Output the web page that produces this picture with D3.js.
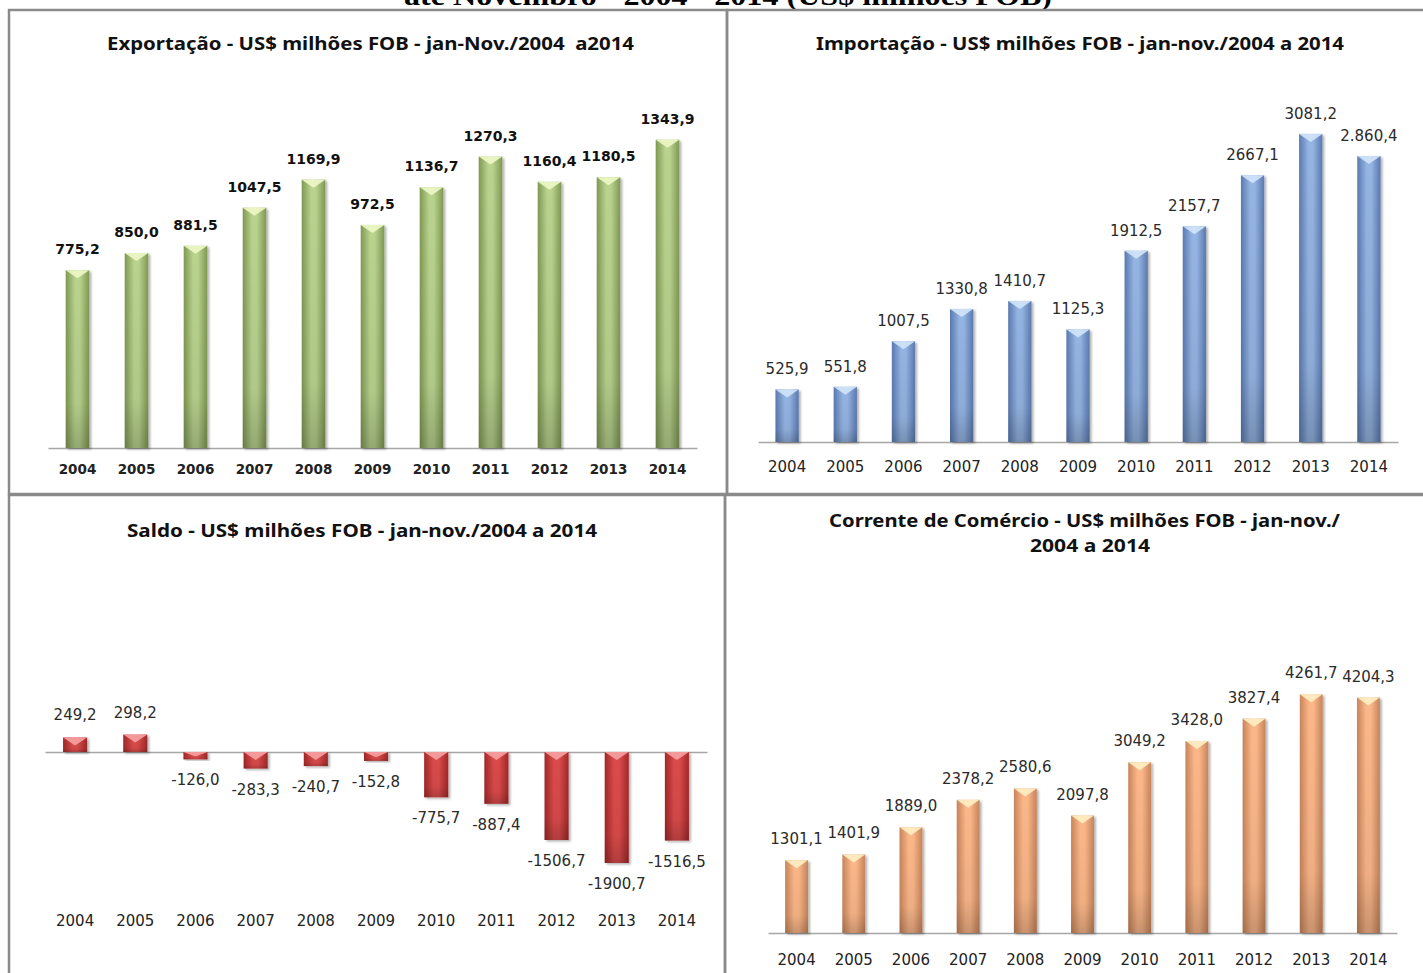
<!DOCTYPE html>
<html>
<head>
<meta charset="utf-8">
<script src="https://cdn.jsdelivr.net/npm/d3@7"></script>
<style>
  body { margin: 0; background: #fff; }
  svg { display: block; }
  text { white-space: pre; }
</style>
</head>
<body>
<svg width="1423" height="973"></svg>
<script>
// data
let years = ['2004', '2005', '2006', '2007', '2008', '2009', '2010', '2011', '2012', '2013', '2014']

let exportValues = [775.2, 850.0, 881.5, 1047.5, 1169.9, 972.5, 1136.7, 1270.3, 1160.4, 1180.5, 1343.9]
let exportLabels = ['775,2', '850,0', '881,5', '1047,5', '1169,9', '972,5', '1136,7', '1270,3', '1160,4', '1180,5', '1343,9']

let importValues = [525.9, 551.8, 1007.5, 1330.8, 1410.7, 1125.3, 1912.5, 2157.7, 2667.1, 3081.2, 2860.4]
let importLabels = ['525,9', '551,8', '1007,5', '1330,8', '1410,7', '1125,3', '1912,5', '2157,7', '2667,1', '3081,2', '2.860,4']

let saldoValues = [249.2, 298.2, -126.0, -283.3, -240.7, -152.8, -775.7, -887.4, -1506.7, -1900.7, -1516.5]
let saldoLabels = ['249,2', '298,2', '-126,0', '-283,3', '-240,7', '-152,8', '-775,7', '-887,4', '-1506,7', '-1900,7', '-1516,5']

let correnteValues = [1301.1, 1401.9, 1889.0, 2378.2, 2580.6, 2097.8, 3049.2, 3428.0, 3827.4, 4261.7, 4204.3]
let correnteLabels = ['1301,1', '1401,9', '1889,0', '2378,2', '2580,6', '2097,8', '3049,2', '3428,0', '3827,4', '4261,7', '4204,3']

let svg = d3.select('svg')
let defs = svg.append('defs')

// bar colours: edge, centre, chevron
let palettes = {
    green: ['#7f9852', '#b9d38f', '#eef8c6'],
    blue: ['#5a79b0', '#94b4e2', '#d2e4fa'],
    red: ['#a32828', '#dc4c4c', '#f6a2a2'],
    orange: ['#c8845a', '#fbb789', '#fff0c4']
}

Object.keys(palettes).forEach((name) => {
    let p = palettes[name]
    let grad = defs.append('linearGradient').attr('id', 'g-' + name)
        .attr('x1', '0').attr('x2', '1').attr('y1', '0').attr('y2', '0')
    grad.append('stop').attr('offset', '0%').attr('stop-color', p[0])
    grad.append('stop').attr('offset', '40%').attr('stop-color', p[1])
    grad.append('stop').attr('offset', '60%').attr('stop-color', p[1])
    grad.append('stop').attr('offset', '100%').attr('stop-color', p[0])
})

let shade = defs.append('linearGradient').attr('id', 'shade')
    .attr('x1', '0').attr('x2', '0').attr('y1', '0').attr('y2', '1')
shade.append('stop').attr('offset', '0%').attr('stop-color', '#000').attr('stop-opacity', 0)
shade.append('stop').attr('offset', '75%').attr('stop-color', '#000').attr('stop-opacity', 0.05)
shade.append('stop').attr('offset', '100%').attr('stop-color', '#000').attr('stop-opacity', 0.2)

let shadow = defs.append('filter').attr('id', 'shadow')
    .attr('x', '-30%').attr('y', '-10%').attr('width', '160%').attr('height', '130%')
shadow.append('feDropShadow').attr('dx', 2).attr('dy', 1.5)
    .attr('stdDeviation', 1.2).attr('flood-color', '#000').attr('flood-opacity', 0.3)

// page title, cut at the top like the source
svg.append('text')
    .attr('x', 728).attr('y', 5)
    .attr('text-anchor', 'middle')
    .attr('font-family', 'Liberation Serif')
    .attr('font-weight', 'bold')
    .attr('font-size', 27)
    .attr('textLength', 648)
    .attr('lengthAdjust', 'spacingAndGlyphs')
    .text('até Novembro - 2004 - 2014 (US$ milhões FOB)')

// panel frames
let frameColor = '#8a8a8a'
let frames = [
    [9, 10, 718, 484],
    [727, 10, 710, 484],
    [9, 495, 716, 500],
    [725, 495, 710, 500]
]
svg.selectAll('rect.frame')
    .data(frames)
    .enter()
    .append('rect')
    .attr('class', 'frame')
    .attr('x', (d) => d[0])
    .attr('y', (d) => d[1])
    .attr('width', (d) => d[2])
    .attr('height', (d) => d[3])
    .attr('fill', 'none')
    .attr('stroke', frameColor)
    .attr('stroke-width', 2.5)

let drawPanel = (cfg) => {
    let g = svg.append('g')

    let x = d3.scaleBand()
        .domain(years)
        .range(cfg.xRange)
        .paddingInner(0.6)
        .paddingOuter(0.3)

    let y = d3.scaleLinear()
        .domain(cfg.yDomain)
        .range(cfg.yRange)

    // title
    cfg.title.forEach((t) => {
        g.append('text')
            .attr('x', t.x).attr('y', t.y)
            .attr('text-anchor', 'middle')
            .attr('font-family', 'Noto Sans')
            .attr('font-weight', 'bold')
            .attr('font-size', 18)
            .attr('fill', '#111')
            .attr('textLength', t.len)
            .attr('lengthAdjust', 'spacingAndGlyphs')
            .text(t.text)
    })

    // axis with years
    let axis = g.append('g')
        .attr('transform', 'translate(0,' + y(0) + ')')
        .call(d3.axisBottom(x).tickSize(0).tickSizeOuter(0))
    axis.select('.domain')
        .attr('stroke', '#a6a6a6')
        .attr('stroke-width', 1.5)
    axis.selectAll('text')
        .attr('y', cfg.yearBaseline - y(0))
        .attr('dy', 0)
        .attr('font-family', 'DejaVu Sans')
        .attr('font-weight', cfg.bold ? 'bold' : 'normal')
        .attr('font-size', cfg.bold ? 13.5 : 15)
        .attr('fill', '#222')

    let w = x.bandwidth()
    let bars = g.selectAll('g.bar')
        .data(cfg.values)
        .enter()
        .append('g')
        .attr('class', 'bar')

    let top = (d) => y(Math.max(d, 0))
    let bottom = (d) => y(Math.min(d, 0))

    bars.append('rect')
        .attr('x', (d, i) => x(years[i]))
        .attr('y', top)
        .attr('width', w)
        .attr('height', (d) => bottom(d) - top(d))
        .attr('fill', 'url(#g-' + cfg.color + ')')
        .attr('filter', 'url(#shadow)')

    bars.append('rect')
        .attr('x', (d, i) => x(years[i]))
        .attr('y', top)
        .attr('width', w)
        .attr('height', (d) => bottom(d) - top(d))
        .attr('fill', 'url(#shade)')

    bars.append('path')
        .attr('d', (d, i) => {
            let x0 = x(years[i])
            let t = top(d)
            let depth = Math.min(8, (bottom(d) - t) * 0.6)
            return 'M' + x0 + ',' + t + 'L' + (x0 + w) + ',' + t +
                'L' + (x0 + w / 2) + ',' + (t + depth) + 'Z'
        })
        .attr('fill', palettes[cfg.color][2])
        .attr('opacity', 0.9)

    // value labels
    g.selectAll('text.value')
        .data(cfg.values)
        .enter()
        .append('text')
        .attr('class', 'value')
        .attr('x', (d, i) => x(years[i]) + w / 2)
        .attr('y', (d) => d >= 0 ? top(d) - cfg.gapAbove : bottom(d) + cfg.gapBelow)
        .attr('text-anchor', 'middle')
        .attr('font-family', 'DejaVu Sans')
        .attr('font-weight', cfg.bold ? 'bold' : 'normal')
        .attr('font-size', cfg.bold ? 14 : 15)
        .attr('fill', cfg.bold ? '#111' : '#2a2a2a')
        .text((d, i) => cfg.labels[i])
}

drawPanel({
    values: exportValues,
    labels: exportLabels,
    color: 'green',
    bold: true,
    xRange: [48, 697],
    yDomain: [0, 1600],
    yRange: [448, 81],
    yearBaseline: 474,
    gapAbove: 16,
    gapBelow: 26,
    title: [{ text: 'Exportação - US$ milhões FOB - jan-Nov./2004  a2014', x: 370.5, y: 50, len: 527 }]
})

drawPanel({
    values: importValues,
    labels: importLabels,
    color: 'blue',
    bold: false,
    xRange: [758, 1398],
    yDomain: [0, 3500],
    yRange: [442, 92],
    yearBaseline: 472,
    gapAbove: 15,
    gapBelow: 26,
    title: [{ text: 'Importação - US$ milhões FOB - jan-nov./2004 a 2014', x: 1080, y: 50, len: 528 }]
})

drawPanel({
    values: saldoValues,
    labels: saldoLabels,
    color: 'red',
    bold: false,
    xRange: [45, 707],
    yDomain: [-2000, 3000],
    yRange: [868.8, 576.8],
    yearBaseline: 926,
    gapAbove: 17,
    gapBelow: 26,
    title: [{ text: 'Saldo - US$ milhões FOB - jan-nov./2004 a 2014', x: 362, y: 537, len: 470 }]
})

drawPanel({
    values: correnteValues,
    labels: correnteLabels,
    color: 'orange',
    bold: false,
    xRange: [768, 1397],
    yDomain: [0, 5000],
    yRange: [933, 653],
    yearBaseline: 965,
    gapAbove: 16,
    gapBelow: 26,
    title: [
        { text: 'Corrente de Comércio - US$ milhões FOB - jan-nov./', x: 1084.5, y: 527, len: 511 },
        { text: '2004 a 2014', x: 1090, y: 552, len: 120 }
    ]
})
</script>
</body>
</html>
